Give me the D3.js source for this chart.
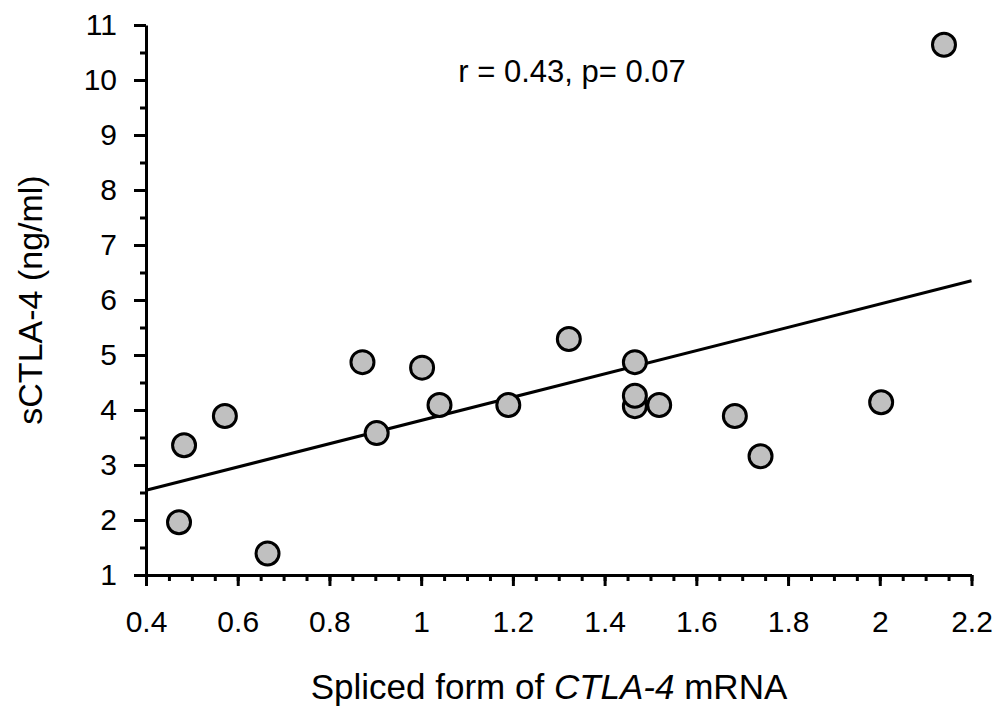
<!DOCTYPE html>
<html>
<head>
<meta charset="utf-8">
<script src="https://cdn.jsdelivr.net/npm/d3@7"></script>
<style>
  html, body { margin: 0; padding: 0; background: #fff; }
  svg { display: block; font-family: "Liberation Sans", Arial, sans-serif; }
</style>
</head>
<body>
<svg id="chart" width="1004" height="718"></svg>
<script>
// ---- data ----
const xValues = [0.472, 0.483, 0.572, 0.665, 0.872, 0.903, 1.002, 1.040, 1.190, 1.322, 1.466, 1.466, 1.466, 1.519, 1.684, 1.740, 2.003, 2.140];
const yValues = [1.96, 3.36, 3.89, 1.39, 4.87, 3.58, 4.77, 4.09, 4.09, 5.29, 4.07, 4.26, 4.87, 4.09, 3.89, 3.16, 4.14, 10.64];
const fitX = [0.4, 2.2];
const fitY = [2.54, 6.35];
const xTicks = [0.4, 0.6, 0.8, 1.0, 1.2, 1.4, 1.6, 1.8, 2.0, 2.2];
const xTickLabels = ["0.4", "0.6", "0.8", "1", "1.2", "1.4", "1.6", "1.8", "2", "2.2"];
const yTicks = [1, 2, 3, 4, 5, 6, 7, 8, 9, 10, 11];
const annotation = "r = 0.43, p= 0.07";

// ---- layout ----
const svg = d3.select("#chart");
const x = d3.scaleLinear().domain([0.4, 2.2]).range([146, 971.5]);
const y = d3.scaleLinear().domain([1, 11]).range([575, 25]);

const xMinor = d3.range(0.4, 2.2001, 0.05).map(v => +v.toFixed(2));
const yMinor = d3.range(1, 11.001, 0.5).map(v => +v.toFixed(1));

// minor ticks
svg.append("g").attr("transform", "translate(0,575)")
  .call(d3.axisBottom(x).tickValues(xMinor).tickSize(6).tickFormat(""))
  .call(g => g.select(".domain").remove())
  .call(g => g.selectAll("line").attr("stroke", "#000").attr("stroke-width", 3));
svg.append("g").attr("transform", "translate(146,0)")
  .call(d3.axisLeft(y).tickValues(yMinor).tickSize(6).tickFormat(""))
  .call(g => g.select(".domain").remove())
  .call(g => g.selectAll("line").attr("stroke", "#000").attr("stroke-width", 3));

// major x axis
svg.append("g").attr("transform", "translate(0,575)")
  .call(d3.axisBottom(x).tickValues(xTicks).tickSize(11).tickSizeOuter(0).tickPadding(25)
    .tickFormat((d, i) => xTickLabels[i]))
  .call(g => g.select(".domain").attr("stroke", "#000").attr("stroke-width", 3))
  .call(g => g.selectAll("line").attr("stroke", "#000").attr("stroke-width", 3))
  .call(g => g.selectAll("text").attr("fill", "#000").style("font-size", "30px")
    .style("font-family", "'Liberation Sans', Arial, sans-serif"));

// major y axis
svg.append("g").attr("transform", "translate(146,0)")
  .call(d3.axisLeft(y).tickValues(yTicks).tickSize(12).tickSizeOuter(0).tickPadding(17)
    .tickFormat(d3.format("d")))
  .call(g => g.select(".domain").attr("stroke", "#000").attr("stroke-width", 3))
  .call(g => g.selectAll("line").attr("stroke", "#000").attr("stroke-width", 3))
  .call(g => g.selectAll("text").attr("fill", "#000").style("font-size", "30px")
    .style("font-family", "'Liberation Sans', Arial, sans-serif"));

// regression line
svg.append("path")
  .datum(fitX.map((v, i) => [v, fitY[i]]))
  .attr("fill", "none").attr("stroke", "#000").attr("stroke-width", 3)
  .attr("d", d3.line().x(d => x(d[0])).y(d => y(d[1])));

// points
svg.append("g").selectAll("circle")
  .data(xValues.map((v, i) => [v, yValues[i]]))
  .join("circle")
  .attr("cx", d => x(d[0])).attr("cy", d => y(d[1]))
  .attr("r", 11.5)
  .attr("fill", "#c0c0c0").attr("stroke", "#000").attr("stroke-width", 3);

// annotation
svg.append("text").attr("x", 572).attr("y", 82).attr("text-anchor", "middle")
  .style("font-size", "31px").text(annotation);

// x axis title
const xt = svg.append("text").attr("x", 549).attr("y", 699).attr("text-anchor", "middle")
  .style("font-size", "35px");
xt.append("tspan").text("Spliced form of ");
xt.append("tspan").style("font-style", "italic").text("CTLA-4");
xt.append("tspan").text(" mRNA");

// y axis title
svg.append("text").attr("transform", "translate(42,300) rotate(-90)")
  .attr("text-anchor", "middle").style("font-size", "34px")
  .text("sCTLA-4 (ng/ml)");
</script>
</body>
</html>
